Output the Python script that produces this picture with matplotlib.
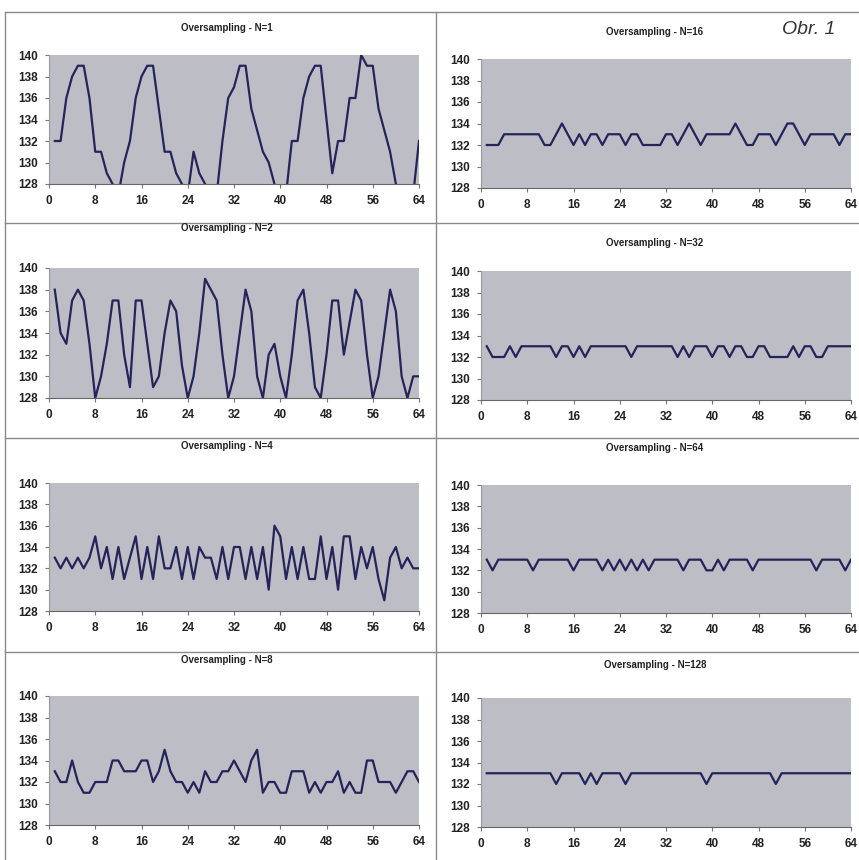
import matplotlib
matplotlib.use('Agg')
import matplotlib.pyplot as plt
from matplotlib.lines import Line2D
import numpy as np

plt.rcParams['font.family'] = ['Liberation Sans', 'DejaVu Sans']

# vzorky 1..64
x = np.arange(1, 65)

n1 = [132, 132, 136, 138, 139, 139, 136, 131, 131, 129, 128, 127, 130, 132, 136, 138,
      139, 139, 135, 131, 131, 129, 128, 127, 131, 129, 128, 127, 127, 132, 136, 137,
      139, 139, 135, 133, 131, 130, 128, 126, 127, 132, 132, 136, 138, 139, 139, 134,
      129, 132, 132, 136, 136, 140, 139, 139, 135, 133, 131, 128, 126, 126, 127, 132]
n2 = [138, 134, 133, 137, 138, 137, 133, 128, 130, 133, 137, 137, 132, 129, 137, 137,
      133, 129, 130, 134, 137, 136, 131, 128, 130, 134, 139, 138, 137, 132, 128, 130,
      134, 138, 136, 130, 128, 132, 133, 130, 128, 132, 137, 138, 134, 129, 128, 132,
      137, 137, 132, 135, 138, 137, 132, 128, 130, 134, 138, 136, 130, 128, 130, 130]
n4 = [133, 132, 133, 132, 133, 132, 133, 135, 132, 134, 131, 134, 131, 133, 135, 131,
      134, 131, 135, 132, 132, 134, 131, 134, 131, 134, 133, 133, 131, 134, 131, 134,
      134, 131, 134, 131, 134, 130, 136, 135, 131, 134, 131, 134, 131, 131, 135, 131,
      134, 130, 135, 135, 131, 134, 132, 134, 131, 129, 133, 134, 132, 133, 132, 132]
n8 = [133, 132, 132, 134, 132, 131, 131, 132, 132, 132, 134, 134, 133, 133, 133, 134,
      134, 132, 133, 135, 133, 132, 132, 131, 132, 131, 133, 132, 132, 133, 133, 134,
      133, 132, 134, 135, 131, 132, 132, 131, 131, 133, 133, 133, 131, 132, 131, 132,
      132, 133, 131, 132, 131, 131, 134, 134, 132, 132, 132, 131, 132, 133, 133, 132]
n16 = [132, 132, 132, 133, 133, 133, 133, 133, 133, 133, 132, 132, 133, 134, 133, 132,
       133, 132, 133, 133, 132, 133, 133, 133, 132, 133, 133, 132, 132, 132, 132, 133,
       133, 132, 133, 134, 133, 132, 133, 133, 133, 133, 133, 134, 133, 132, 132, 133,
       133, 133, 132, 133, 134, 134, 133, 132, 133, 133, 133, 133, 133, 132, 133, 133]
n32 = [133, 132, 132, 132, 133, 132, 133, 133, 133, 133, 133, 133, 132, 133, 133, 132,
       133, 132, 133, 133, 133, 133, 133, 133, 133, 132, 133, 133, 133, 133, 133, 133,
       133, 132, 133, 132, 133, 133, 133, 132, 133, 133, 132, 133, 133, 132, 132, 133,
       133, 132, 132, 132, 132, 133, 132, 133, 133, 132, 132, 133, 133, 133, 133, 133]
n64 = [133, 132, 133, 133, 133, 133, 133, 133, 132, 133, 133, 133, 133, 133, 133, 132,
       133, 133, 133, 133, 132, 133, 132, 133, 132, 133, 132, 133, 132, 133, 133, 133,
       133, 133, 132, 133, 133, 133, 132, 132, 133, 132, 133, 133, 133, 133, 132, 133,
       133, 133, 133, 133, 133, 133, 133, 133, 133, 132, 133, 133, 133, 133, 132, 133]
n128 = [133, 133, 133, 133, 133, 133, 133, 133, 133, 133, 133, 133, 132, 133, 133, 133,
        133, 132, 133, 132, 133, 133, 133, 133, 132, 133, 133, 133, 133, 133, 133, 133,
        133, 133, 133, 133, 133, 133, 132, 133, 133, 133, 133, 133, 133, 133, 133, 133,
        133, 133, 132, 133, 133, 133, 133, 133, 133, 133, 133, 133, 133, 133, 133, 133]

titulky = ['Oversampling - N=1', 'Oversampling - N=2', 'Oversampling - N=4',
           'Oversampling - N=8', 'Oversampling - N=16', 'Oversampling - N=32',
           'Oversampling - N=64', 'Oversampling - N=128']
rady = [n1, n2, n4, n8, n16, n32, n64, n128]

x_ticks = [0, 8, 16, 24, 32, 40, 48, 56, 64]
y_ticks = [128, 130, 132, 134, 136, 138, 140]

W, H = 859, 860
fig = plt.figure(figsize=(W / 100, H / 100), dpi=100)
fig.patch.set_facecolor('white')

# pozice grafu v pixelech (levy okraj, horni, spodni) a titulku (x, y)
poloha = [(49, 55, 184), (49, 268, 398), (49, 483, 611), (49, 696, 825),
          (481, 59, 188), (481, 271, 400), (481, 485, 613), (481, 698, 827)]
poloha_titulku = [(227, 28), (227, 228), (227, 446), (227, 660),
                  (655, 32), (655, 243), (655, 448), (655, 665)]

for data, titulek, (lx, top, bot), (tx, ty) in zip(rady, titulky, poloha, poloha_titulku):
    ax = fig.add_axes([lx / W, 1 - bot / H, 370 / W, (bot - top) / H])
    ax.set_facecolor('#bdbdc5')
    ax.plot(x, data, color='#24245a', lw=1.6)
    ax.set_xlim(0, 64)
    ax.set_ylim(128, 140)
    ax.set_xticks(x_ticks)
    ax.set_yticks(y_ticks)
    ax.tick_params(labelsize=8.5, length=3, color='#777777', pad=5)
    for lab in ax.get_xticklabels() + ax.get_yticklabels():
        lab.set_fontweight('bold')
        lab.set_color('#222222')
    for s in ['top', 'right']:
        ax.spines[s].set_visible(False)
    ax.spines['left'].set_color('#999999')
    ax.spines['bottom'].set_color('#666666')
    fig.text(tx / W, 1 - ty / H, titulek, ha='center', va='center',
             fontsize=7, fontweight='bold', color='#222222')

# ramecky mezi grafy
def cara(x0, y0, x1, y1):
    fig.add_artist(Line2D([x0 / W, x1 / W], [1 - y0 / H, 1 - y1 / H],
                          color='#8a8a8a', lw=1.0))

cara(5, 12, 859, 12)
cara(5, 12, 5, 860)
cara(436, 12, 436, 860)
for yy in [223, 438, 652]:
    cara(5, yy, 859, yy)

fig.text(809 / W, 1 - 30 / H, 'Obr. 1', ha='center', va='center',
         fontsize=14, fontstyle='italic', color='#333333')

plt.savefig('out.png', dpi=100, facecolor='white')
